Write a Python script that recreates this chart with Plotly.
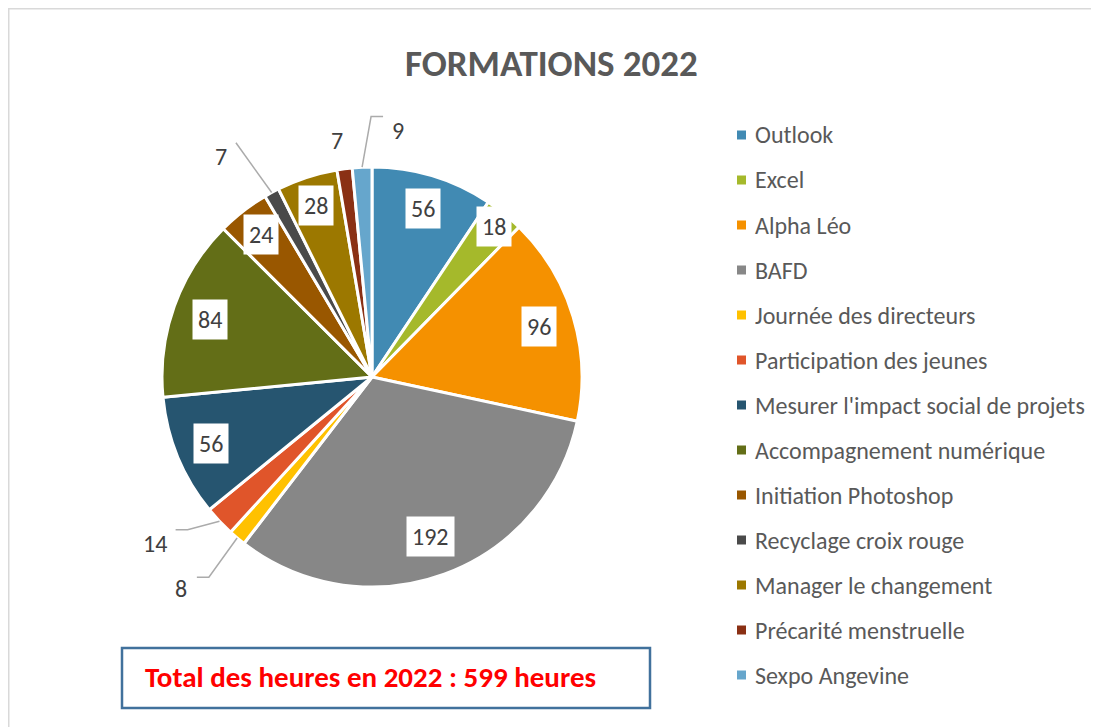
import math
import plotly.graph_objects as go

W, H = 1099, 727

labels = ["Outlook", "Excel", "Alpha Léo", "BAFD", "Journée des directeurs",
          "Participation des jeunes", "Mesurer l'impact social de projets",
          "Accompagnement numérique", "Initiation Photoshop", "Recyclage croix rouge",
          "Manager le changement", "Précarité menstruelle", "Sexpo Angevine"]
values = [56, 18, 96, 192, 8, 14, 56, 84, 24, 7, 28, 7, 9]
colors = ["#418AB3", "#A5B92B", "#F59100", "#878787", "#FFC100", "#E0552A",
          "#265570", "#636E17", "#995700", "#4A4A4A", "#9C7800", "#8A3014", "#66A6CC"]
title_text = "FORMATIONS 2022"
total_text = "Total des heures en 2022 : 599 heures"

# layout geometry (page pixels); OFF = browser body margin
OFF = 8
CX, CY, R = 372, 377, 210
FONT = "Carlito, Lato, 'Open Sans', sans-serif"
LABEL_SIZE = 24

# label styles: inside -> radius factor ; outside -> leader specs
inside_r = {0: 0.84, 1: 0.92, 2: 0.83, 3: 0.81, 6: 0.83, 7: 0.82, 8: 0.86, 10: 0.86}
# idx: (elbow r factor, elbow angle delta, horizontal px, label dx, label dy)
outside = {
    4: (1.23, -0.8, -12, -16, 11),
    5: (1.14, 3.8, -12, -21, 14),
    9: (1.29, -1.6, 0, -15, 14),
    11: (None, -0.9, 0, 0, 0),
    12: (1.24, 2.5, 12, 15, 14),
}

def to_paper(px, py):
    return (px - OFF) / W, 1 - (py - OFF) / H

def polar(r, a_deg):
    a = math.radians(a_deg)
    return CX + r * math.sin(a), CY - r * math.cos(a)

total = sum(values)
mids = []
acc = 0
for v in values:
    mids.append((acc + v / 2) / total * 360)
    acc += v

dx0, dy1 = to_paper(CX - R, CY - R)
dx1, dy0 = to_paper(CX + R, CY + R)

fig = go.Figure()
fig.add_trace(go.Pie(
    labels=labels, values=values, sort=False, direction="clockwise", rotation=0,
    marker=dict(colors=colors, line=dict(color="white", width=3)),
    textinfo="none", showlegend=False, hoverinfo="label+value",
    domain=dict(x=[dx0, dx1], y=[dy0, dy1]),
))

annotations = []
shapes = []

def ann(px, py, text, size, color, xanchor="center"):
    x, y = to_paper(px, py)
    d = dict(x=x, y=y, xref="paper", yref="paper", text=text, showarrow=False,
             xanchor=xanchor, yanchor="middle",
             font=dict(family=FONT, size=size, color=color))
    annotations.append(d)
    return d

for i, v in enumerate(values):
    m = mids[i]
    if i in inside_r:
        px, py = polar(R * inside_r[i], m)
        d = ann(px, py, str(v), LABEL_SIZE, "#404040")
        d["bgcolor"] = "white"
        d["borderpad"] = 5
    else:
        er, da, hx, ldx, ldy = outside[i]
        if er is None:
            px, py = polar(R * 1.14, m + da)
        else:
            sx, sy = polar(R * 1.0, m)
            ex, ey = polar(R * er, m + da)
            hx2 = ex + hx
            path = "M {} {} L {} {} L {} {}".format(
                *to_paper(sx, sy), *to_paper(ex, ey), *to_paper(hx2, ey))
            shapes.append(dict(type="path", path=path, xref="paper", yref="paper",
                               line=dict(color="#ABABAB", width=1.5)))
            px, py = hx2 + ldx, ey + ldy
        ann(px, py, str(v), LABEL_SIZE, "#404040")

# manual legend
LX, LY0, LDY = 737, 135, 45
for i, lab in enumerate(labels):
    cy = LY0 + i * LDY
    x0, y0 = to_paper(LX, cy + 4.5)
    x1, y1 = to_paper(LX + 9, cy - 4.5)
    shapes.append(dict(type="rect", xref="paper", yref="paper", x0=x0, x1=x1, y0=y0, y1=y1,
                       fillcolor=colors[i], line=dict(width=0)))
    ann(LX + 16, cy, lab, 24, "#595959", xanchor="left")

# title
ann(551, 64, "<b>" + title_text + "</b>", 37, "#595959")

# total box
bx0, by0 = to_paper(122, 708)
bx1, by1 = to_paper(650, 648)
shapes.append(dict(type="rect", xref="paper", yref="paper", x0=bx0, x1=bx1, y0=by0, y1=by1,
                   line=dict(color="#41719C", width=2.5), fillcolor="rgba(0,0,0,0)"))
ann(370, 677, "<b>" + total_text + "</b>", 29, "#FF0000")

# chart border
cx0, cy1 = to_paper(8, 8)
cx1, cy0 = to_paper(W + 20, H + 20)
shapes.append(dict(type="rect", xref="paper", yref="paper", x0=cx0, x1=cx1, y0=cy0, y1=cy1,
                   line=dict(color="#D9D9D9", width=3), fillcolor="rgba(0,0,0,0)", layer="below"))

fig.update_layout(
    width=W, height=H, margin=dict(l=0, r=0, t=0, b=0),
    paper_bgcolor="white", plot_bgcolor="white",
    annotations=annotations, shapes=shapes,
    font=dict(family=FONT),
)
fig.write_html("out.html")
